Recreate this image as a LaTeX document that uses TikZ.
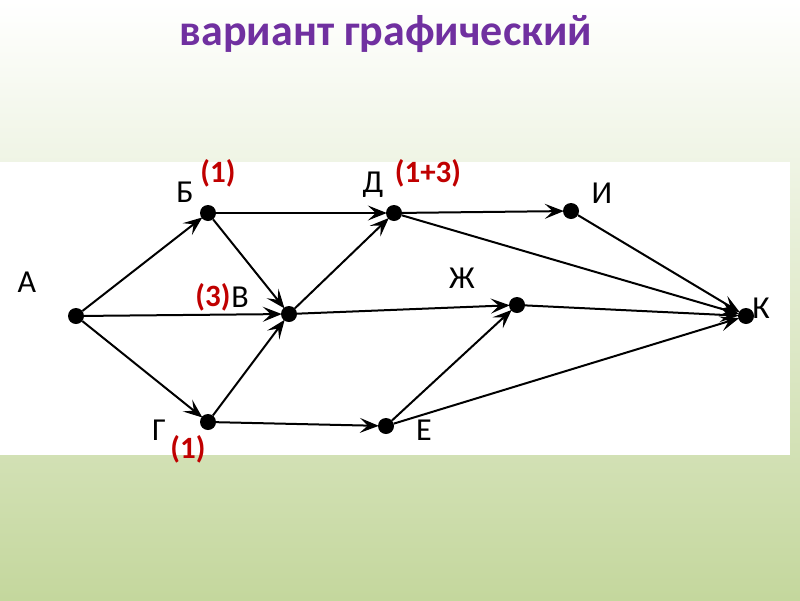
\documentclass[tikz,border=0pt]{standalone}
\usepackage{fontspec}
\setmainfont{Carlito}
\usetikzlibrary{arrows.meta}

\definecolor{titlepurple}{RGB}{112,48,160}
\definecolor{weightred}{RGB}{192,0,0}
\definecolor{bggreen}{RGB}{196,215,157}

\tikzset{
	vertex/.style={circle, fill=black, inner sep=0pt, minimum size=16pt},
	edge/.style={line width=2pt, -{Stealth[length=19pt,width=15pt,inset=8pt]}, shorten >=-1pt},
	letter/.style={anchor=base, inner sep=0pt, font=\fontsize{32}{32}\selectfont},
	weight/.style={anchor=base, inner sep=0pt, text=weightred, font=\bfseries\fontsize{31}{31}\selectfont}
}

\begin{document}
\begin{tikzpicture}[x=1pt, y=-1pt]
	% background
	\shade[top color=white, bottom color=bggreen] (0,0) rectangle (800,600);
	\fill[white] (0,162) rectangle (790,455);
	\useasboundingbox (0,0) rectangle (800,600);

	\node[anchor=base, text=titlepurple, font=\bfseries\fontsize{44}{44}\selectfont] (title) at (386,45) {вариант графический};

	% vertices
	\node[vertex] (A) at (76,316) {};
	\node[vertex] (B) at (208,213) {};
	\node[vertex] (V) at (289,314) {};
	\node[vertex] (G) at (208,422) {};
	\node[vertex] (D) at (394,213) {};
	\node[vertex] (E) at (386,426) {};
	\node[vertex] (Zh) at (517,305) {};
	\node[vertex] (I) at (571,211) {};
	\node[vertex] (K) at (746,316) {};

	\foreach \from/\to in {A/B, A/V, A/G, B/D, B/V, G/V, V/D, V/Zh, G/E, D/I, D/K, I/K, Zh/K, E/Zh, E/K}
		\draw[edge] (\from) -- (\to);

	% letters
	\node[letter] (lA) at (27,292) {А};
	\node[letter] (lB) at (185,202) {Б};
	\node[letter] (lV) at (240,307) {В};
	\node[letter] (lG) at (159,440) {Г};
	\node[letter] (lD) at (373,192) {Д};
	\node[letter] (lE) at (424,440) {Е};
	\node[letter] (lZh) at (462,288) {Ж};
	\node[letter] (lI) at (602,203) {И};
	\node[letter] (lK) at (761,318) {К};

	% path counts
	\node[weight] (wB) at (218,182) {(1)};
	\node[weight] (wD) at (428,182) {(1+3)};
	\node[weight] (wV) at (213,306) {(3)};
	\node[weight] (wG) at (188,458) {(1)};
\end{tikzpicture}
\end{document}
